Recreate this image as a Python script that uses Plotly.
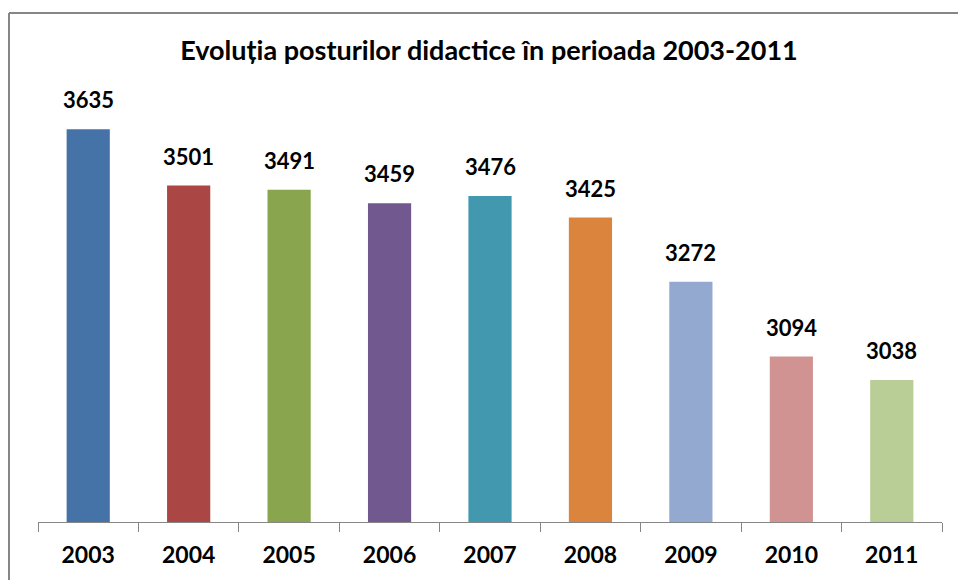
import plotly.graph_objects as go

years = ["2003", "2004", "2005", "2006", "2007", "2008", "2009", "2010", "2011"]
posts = [3635, 3501, 3491, 3459, 3476, 3425, 3272, 3094, 3038]
colors = ["#4572A7", "#AA4643", "#89A54E", "#71588F", "#4198AF",
          "#DB843D", "#93A9CF", "#D19392", "#B9CD96"]

FONT = "Lato"

W, H = 958, 580
# desired screen positions of plot area
sl, sr, st, sb = 38, 942, 102, 522
ml, mt, mr, mb = sl, st, W - sr, H - sb
pw = W - ml - mr
ph = H - mt - mb

def px_x(p):
    return (p - ml) / pw

def px_y(p):
    return (H - mb - p) / ph

fig = go.Figure()
fig.add_trace(go.Bar(
    x=years, y=posts,
    marker=dict(color=colors, line=dict(width=0)),
    width=0.43,
    hoverinfo="x+y",
))

for i, v in enumerate(posts):
    fig.add_annotation(
        x=i, y=v, text=f"<b>{v}</b>", showarrow=False,
        xref="x", yref="y",
        yanchor="bottom", yshift=14,
        font=dict(family=FONT, size=22, color="#000000"),
    )

border = dict(color="#868686", width=2)
fig.add_shape(type="line", xref="paper", yref="paper",
              x0=px_x(9), x1=px_x(1000), y0=px_y(13), y1=px_y(13),
              line=border, layer="below")
fig.add_shape(type="line", xref="paper", yref="paper",
              x0=px_x(9), x1=px_x(9), y0=px_y(13), y1=px_y(640),
              line=border, layer="below")

fig.update_layout(
    width=W, height=H,
    margin=dict(l=ml, r=mr, t=mt, b=mb, autoexpand=False),
    paper_bgcolor="white", plot_bgcolor="white",
    showlegend=False,
    title=dict(
        text="<b>Evoluția posturilor didactice în perioada 2003-2011</b>",
        x=489 / W, xanchor="center", y=1 - 51 / H, yanchor="middle",
        font=dict(family=FONT, size=27, color="#000000"),
    ),
    xaxis=dict(
        type="category", showline=True, linecolor="#868686", linewidth=1,
        ticks="outside", tickson="boundaries", ticklen=9, tickcolor="#868686",
        tickfont=dict(family=FONT, size=23, color="#000000", weight="bold"),
        ticklabelstandoff=12,
        showgrid=False, zeroline=False, range=[-0.5, 8.5],
    ),
    yaxis=dict(range=[2700, 3700], visible=False, showgrid=False),
    font=dict(family=FONT),
)

fig.write_html(
    "out.html",
    config={"displayModeBar": False},
    post_script="document.body.style.margin='0';document.body.style.overflow='hidden';",
)
